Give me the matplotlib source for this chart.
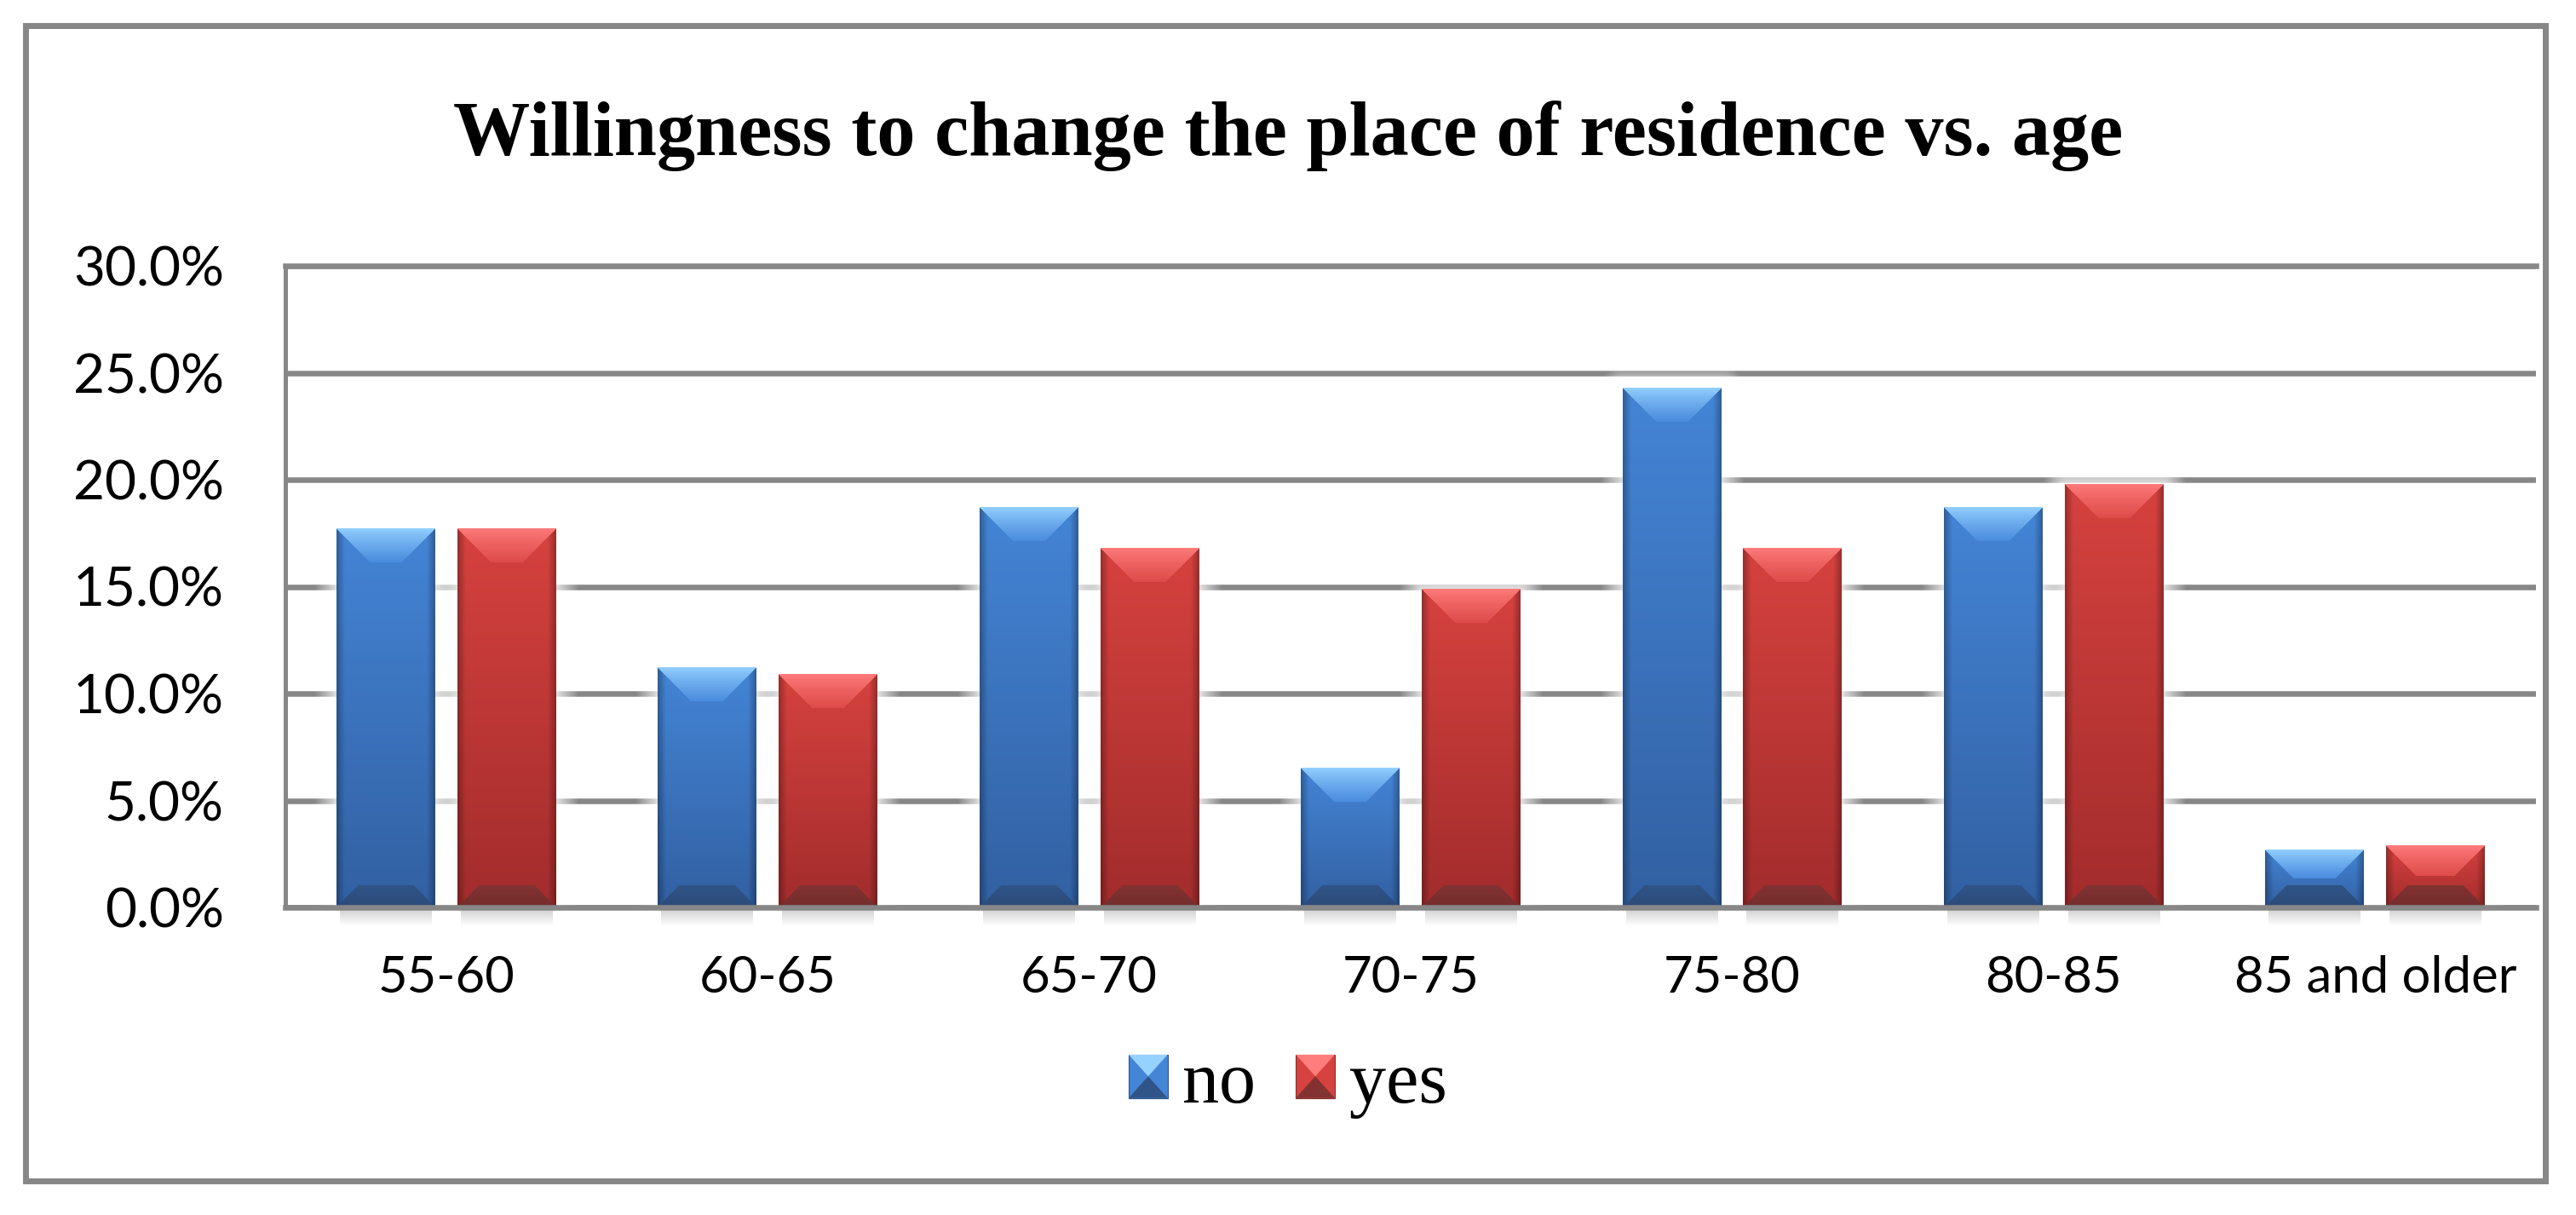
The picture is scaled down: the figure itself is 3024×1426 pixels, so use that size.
import numpy as np
import matplotlib.pyplot as plt
from matplotlib.legend_handler import HandlerBase
from matplotlib.patches import Polygon, Rectangle

# data (percent of respondents)
ages = ['55-60', '60-65', '65-70', '70-75', '75-80', '80-85', '85 and older']
no_share = [17.7, 11.2, 18.7, 6.5, 24.3, 18.7, 2.7]
yes_share = [17.7, 10.9, 16.8, 14.9, 16.8, 19.8, 2.9]
y_ticks = [0, 5, 10, 15, 20, 25, 30]
title = 'Willingness to change the place of residence vs. age'

W, H, DPI = 3024, 1426, 100
GRID = '#878787'

# colours for the bevelled bars (rgb 0-255)
pal_blue = dict(body_top=(68, 133, 214), body_bot=(50, 96, 162),
                bev_hi=(150, 210, 255), bev_lo=(74, 140, 222), bev_dark=(48, 84, 135))
pal_red = dict(body_top=(214, 66, 63), body_bot=(162, 44, 44),
               bev_hi=(255, 125, 125), bev_lo=(222, 76, 74), bev_dark=(130, 50, 50))


def rgb(c):
    return tuple(v / 255 for v in c)


def bar_image(wpx, hpx, pal):
    w = max(int(round(wpx)), 2)
    h = max(int(round(hpx)), 2)
    p = {k: np.array(v, float) / 255 for k, v in pal.items()}
    C, R = np.meshgrid(np.arange(w) + 0.5, np.arange(h) + 0.5)
    dx = np.minimum(C, w - C)
    bot = h - R
    t = (R / h)[..., None]
    img = (1 - t) * p['body_top'] + t * p['body_bot']
    edge = np.clip(dx / 10.0, 0, 1)
    img = img * (0.7 + 0.3 * edge)[..., None]
    T = min(40, h / 2)
    B = min(26, h / 2)
    m_top = (R < T) & (R <= dx)
    s = np.clip(R / T, 0, 1)[..., None] ** 0.8
    topc = (1 - s) * p['bev_hi'] + s * p['bev_lo']
    img = np.where(m_top[..., None], topc, img)
    m_bot = (bot < B) & (bot <= dx) & ~m_top
    sb = np.clip(bot / B, 0, 1)[..., None]
    botc = p['bev_dark'] * (0.9 + 0.1 * sb)
    img = np.where(m_bot[..., None], botc, img)
    return np.clip(img, 0, 1)


class BevelHandler(HandlerBase):
    def __init__(self, pal):
        super().__init__()
        self.pal = pal

    def create_artists(self, legend, orig_handle, xdescent, ydescent,
                       width, height, fontsize, trans):
        x0, y0 = -xdescent, -ydescent
        cx, cy = x0 + width / 2, y0 + height / 2
        body = Rectangle((x0, y0), width, height, fc=rgb(self.pal['body_top']),
                         ec=rgb(self.pal['bev_dark']), lw=0.8, transform=trans)
        top = Polygon([(x0, y0 + height), (x0 + width, y0 + height), (cx, cy)],
                      fc=rgb(self.pal['bev_hi']), ec='none', transform=trans)
        bot = Polygon([(x0, y0), (x0 + width, y0), (cx, cy)],
                      fc=rgb(self.pal['bev_dark']), ec='none', transform=trans)
        return [body, top, bot]


fig = plt.figure(figsize=(W / DPI, H / DPI), dpi=DPI)
ax = fig.add_axes([335 / W, 1 - 1065 / H, (2977 - 335) / W, (1065 - 312) / H])

x = np.arange(len(ages))
bw = 0.307
off = 0.188
bars_no = ax.bar(x - off, no_share, bw, color='#3F7CC9', label='no', zorder=3)
bars_yes = ax.bar(x + off, yes_share, bw, color='#C93C3A', label='yes', zorder=3)

# pixels per data unit
ppx = (2977 - 335) / 7.0
ppy = (1065 - 312) / 30.0

halo = np.zeros((60, 60, 4))
hy, hx = np.meshgrid(np.linspace(-1, 1, 60), np.linspace(-1, 1, 60), indexing='ij')

for bars, pal in ((bars_no, pal_blue), (bars_yes, pal_red)):
    for r in bars:
        x0, bw_d, hgt = r.get_x(), r.get_width(), r.get_height()
        img = bar_image(bw_d * ppx, hgt * ppy, pal)
        ax.imshow(img, extent=(x0, x0 + bw_d, 0, hgt), aspect='auto',
                  interpolation='bilinear', zorder=4, clip_path=r, clip_on=True)
        # white glow that fades the grid lines next to the bar
        gw, gh = 26 / ppx, 26 / ppy
        wpx, hpx = bw_d * ppx + 52, hgt * ppy + 26
        cols = np.arange(int(wpx)) + 0.5
        rows = np.arange(int(hpx)) + 0.5
        Cc, Rr = np.meshgrid(cols, rows)
        dxo = np.maximum(np.maximum(26 - Cc, Cc - (wpx - 26)), 0)
        dyo = np.maximum(26 - Rr, 0)
        d = np.hypot(dxo, dyo)
        glow = np.ones(Cc.shape + (4,))
        glow[..., 3] = np.clip(1 - d / 26, 0, 1) * 0.75
        ax.imshow(glow, extent=(x0 - gw, x0 + bw_d + gw, 0, hgt + gh), aspect='auto',
                  interpolation='bilinear', zorder=2)
        # soft shadow under each bar
        sh_h = 22 / ppy
        grad = np.linspace(0.35, 0, 20)[:, None] * np.ones((1, 10))
        rgba = np.zeros(grad.shape + (4,))
        rgba[..., :3] = 0.45
        rgba[..., 3] = grad
        ax.imshow(rgba, extent=(x0 + 4 / ppx, x0 + bw_d - 4 / ppx, -sh_h, 0),
                  aspect='auto', interpolation='bilinear', zorder=2, clip_on=False)

ax.set_xlim(-0.5, len(ages) - 0.5)
ax.set_ylim(0, 30)

ax.set_axisbelow(True)
ax.yaxis.grid(True, color=GRID, lw=4.7)
ax.set_yticks(y_ticks, labels=[f'{v:.1f}%' for v in y_ticks])
ax.set_xticks(x, labels=ages)
ax.tick_params(length=0)
ax.tick_params(axis='y', pad=52, labelsize=46)
ax.tick_params(axis='x', pad=40, labelsize=43)
for lab in ax.get_xticklabels() + ax.get_yticklabels():
    lab.set_fontfamily('Lato')

for side in ('top', 'bottom'):
    ax.spines[side].set_color(GRID)
    ax.spines[side].set_linewidth(4.7)
    ax.spines[side].set_zorder(5)
ax.spines['left'].set_color(GRID)
ax.spines['left'].set_linewidth(3.6)
ax.spines['right'].set_visible(False)

h_no, h_yes = bars_no[0], bars_yes[0]
ax.legend(handles=[h_no, h_yes], labels=['no', 'yes'], loc='center',
          bbox_to_anchor=(0.5, 1 - 1273 / H), bbox_transform=fig.transFigure,
          ncol=2, frameon=False, prop={'family': 'Liberation Serif', 'size': 62},
          handlelength=0.53, handleheight=0.53, handletextpad=0.2, columnspacing=0.55,
          handler_map={h_no: BevelHandler(pal_blue), h_yes: BevelHandler(pal_red)})

fig.text(0.5, 1 - 182 / H, title, ha='center', va='baseline',
         fontfamily='Liberation Serif', fontweight='bold', fontsize=65)

# outer chart border
fig.add_artist(plt.Rectangle((30 / W, 1 - 1386 / H), (2988 - 30) / W, (1386 - 30) / H,
                             transform=fig.transFigure, fill=False, ec=GRID, lw=5))

fig.savefig('out.png', dpi=DPI)
